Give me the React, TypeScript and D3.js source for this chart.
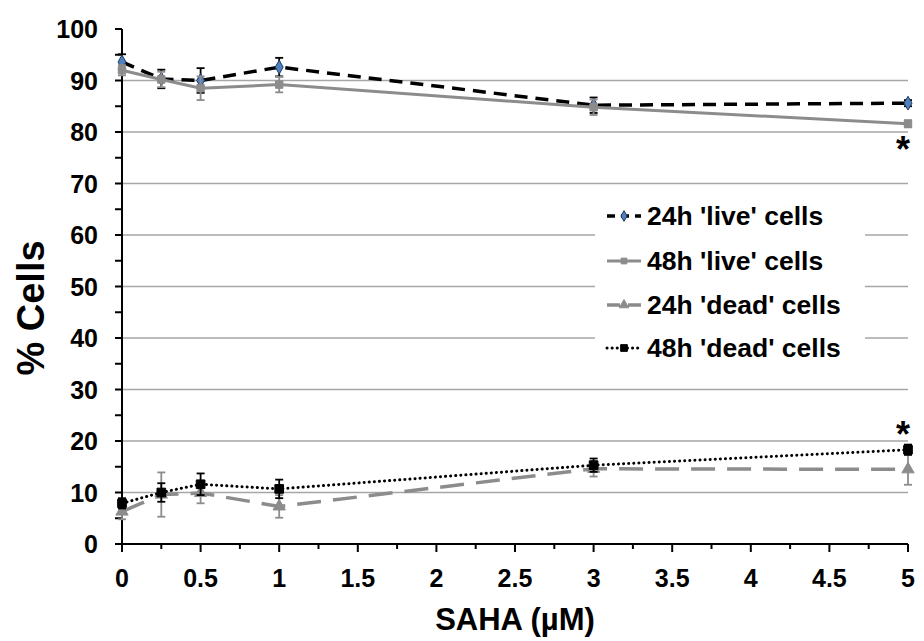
import React from "react";
import * as d3 from "d3";

const doses = [0, 0.25, 0.5, 1, 3, 5];
const live24 = [93.6, 90.3, 90.0, 92.6, 85.2, 85.6];
const live24Err = [1.5, 1.8, 2.4, 1.8, 1.5, 0.6];
const live48 = [92.0, 90.2, 88.5, 89.2, 84.8, 81.6];
const live48Err = [1.0, 1.5, 2.3, 1.5, 1.5, 0.7];
const dead24 = [6.3, 9.6, 9.9, 7.3, 14.6, 14.5];
const dead24Err = [1.5, 4.3, 2.0, 2.2, 1.5, 3.0];
const dead48 = [7.9, 10.0, 11.6, 10.7, 15.3, 18.3];
const dead48Err = [1.0, 1.8, 2.1, 1.8, 1.3, 1.0];

const yTicks = [0, 10, 20, 30, 40, 50, 60, 70, 80, 90, 100];
const xTicks = [0, 0.5, 1, 1.5, 2, 2.5, 3, 3.5, 4, 4.5, 5];
const legendLabels = ["24h 'live' cells", "48h 'live' cells", "24h 'dead' cells", "48h 'dead' cells"];

const GRAY = "#8c8c8c";
const FONT = "'Liberation Sans', Arial, sans-serif";

type Series = {
  values: number[];
  errs: number[];
  color: string;
  width: number;
  dash: string;
  cap: string;
  symbol: d3.SymbolType;
  size: number;
  fill: string;
  stroke: string;
};

const series: Series[] = [
  { values: live24, errs: live24Err, color: "#000", width: 3.5, dash: "13,8", cap: "butt", symbol: d3.symbolDiamond, size: 55, fill: "#4f81bd", stroke: "#1f3864" },
  { values: live48, errs: live48Err, color: GRAY, width: 3, dash: "", cap: "butt", symbol: d3.symbolSquare, size: 55, fill: GRAY, stroke: GRAY },
  { values: dead24, errs: dead24Err, color: GRAY, width: 3.5, dash: "24,12", cap: "butt", symbol: d3.symbolTriangle, size: 65, fill: GRAY, stroke: GRAY },
  { values: dead48, errs: dead48Err, color: "#000", width: 3, dash: "0.1,5", cap: "round", symbol: d3.symbolSquare, size: 75, fill: "#000", stroke: "#000" },
];

export default function App() {
  const x = d3.scaleLinear().domain([0, 5]).range([122, 908]);
  const y = d3.scaleLinear().domain([0, 100]).range([544, 29]);
  const line = d3.line<number>().x((_, i) => x(doses[i])).y((v) => y(v));
  const minorX = d3.range(0, 5.01, 0.25);
  const minorY = d3.range(0, 100.1, 5);

  return (
    <svg width={924} height={641} style={{ position: "absolute", left: 0, top: 0, background: "#fff" }} fontFamily={FONT}>
      {yTicks.filter((t) => t > 0 && t < 100).map((t) => (
        <line key={"g" + t} x1={x(0)} x2={x(5)} y1={y(t)} y2={y(t)} stroke="#a6a6a6" strokeWidth={1.5} />
      ))}
      <rect x={595} y={196} width={270} height={172} fill="#fff" />
      <line x1={x(0)} x2={x(0)} y1={y(100)} y2={y(0)} stroke="#000" strokeWidth={2} />
      <line x1={x(0)} x2={x(5)} y1={y(0)} y2={y(0)} stroke="#000" strokeWidth={2} />
      {minorY.map((t) => (
        <line key={"yt" + t} x1={x(0) - 7} x2={x(0)} y1={y(t)} y2={y(t)} stroke="#000" strokeWidth={2} />
      ))}
      {minorX.map((t) => (
        <line key={"xt" + t} x1={x(t)} x2={x(t)} y1={y(0)} y2={y(0) + (Math.abs(t * 2 - Math.round(t * 2)) < 1e-6 ? 8 : 5)} stroke="#000" strokeWidth={2} />
      ))}
      {yTicks.map((t) => (
        <text key={"yl" + t} x={98} y={y(t) + 9} textAnchor="end" fontSize={25} fontWeight="bold">{t}</text>
      ))}
      {xTicks.map((t) => (
        <text key={"xl" + t} x={x(t)} y={587} textAnchor="middle" fontSize={25} fontWeight="bold">{t}</text>
      ))}
      <text transform={`translate(44,308) rotate(-90)`} textAnchor="middle" fontSize={38} fontWeight="bold">% Cells</text>
      <text x={515} y={630} textAnchor="middle" fontSize={31} fontWeight="bold">SAHA (µM)</text>

      {series.map((s, si) => (
        <g key={"s" + si}>
          {s.values.map((v, i) => (
            <g key={"e" + i} stroke={s.color} strokeWidth={1.8}>
              <line x1={x(doses[i])} x2={x(doses[i])} y1={y(v - s.errs[i])} y2={y(v + s.errs[i])} />
              <line x1={x(doses[i]) - 4} x2={x(doses[i]) + 4} y1={y(v - s.errs[i])} y2={y(v - s.errs[i])} />
              <line x1={x(doses[i]) - 4} x2={x(doses[i]) + 4} y1={y(v + s.errs[i])} y2={y(v + s.errs[i])} />
            </g>
          ))}
          <path d={line(s.values) || ""} fill="none" stroke={s.color} strokeWidth={s.width} strokeDasharray={s.dash || undefined} strokeLinecap={s.cap as any} />
          {s.values.map((v, i) => (
            <path key={"m" + i} d={d3.symbol().type(s.symbol).size(s.size)() || ""} transform={`translate(${x(doses[i])},${y(v)})`} fill={s.fill} stroke={s.stroke} strokeWidth={1} />
          ))}
        </g>
      ))}

      <text x={x(5) - 5} y={y(live48[5]) + 38} textAnchor="middle" fontSize={36} fontWeight="bold">*</text>
      <text x={x(5) - 5} y={y(dead48[5]) - 3} textAnchor="middle" fontSize={36} fontWeight="bold">*</text>

      {series.map((s, i) => {
        const cy = [216, 261, 305, 348][i];
        return (
          <g key={"lg" + i}>
            <line x1={607} x2={641} y1={cy} y2={cy} stroke={s.color} strokeWidth={s.width} strokeDasharray={s.dash ? (i === 0 ? "8,6" : i === 2 ? "13,8" : s.dash) : undefined} strokeLinecap={s.cap as any} />
            <path d={d3.symbol().type(s.symbol).size(s.size * 0.6)() || ""} transform={`translate(624,${cy})`} fill={s.fill} stroke={s.stroke} strokeWidth={1} />
            <text x={647} y={cy + 9} fontSize={26.5} fontWeight="bold">{legendLabels[i]}</text>
          </g>
        );
      })}
    </svg>
  );
}
